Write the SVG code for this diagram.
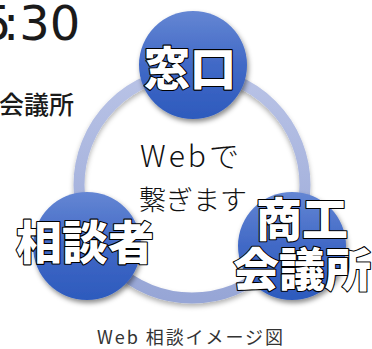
<svg xmlns="http://www.w3.org/2000/svg" width="372" height="349" viewBox="0 0 372 349">
  <defs>
    <linearGradient id="ballGrad" x1="0" y1="0" x2="0" y2="1">
      <stop offset="0" stop-color="#6486d3"/>
      <stop offset="0.5" stop-color="#4169c6"/>
      <stop offset="1" stop-color="#2d5abd"/>
    </linearGradient>
    <linearGradient id="ringGrad" x1="0" y1="0" x2="0" y2="1">
      <stop offset="0" stop-color="#b9c3e6"/>
      <stop offset="1" stop-color="#97a6d6"/>
    </linearGradient>
    <filter id="shadow" x="-30%" y="-30%" width="160%" height="160%">
      <feDropShadow dx="1.5" dy="3" stdDeviation="2.5" flood-color="#000" flood-opacity="0.45"/>
    </filter>
    <filter id="ringShadow" x="-20%" y="-20%" width="140%" height="140%">
      <feDropShadow dx="0" dy="3" stdDeviation="2.5" flood-color="#000" flood-opacity="0.3"/>
    </filter>
    <style>
      .ball { fill: url(#ballGrad); filter: url(#shadow); }
      .label { font-family: "Noto Sans CJK JP", "Noto Sans", sans-serif; font-weight: 900; font-size: 46px; fill: #ffffff; stroke: #000000; stroke-width: 2.2px; stroke-linejoin: round; paint-order: stroke fill; text-anchor: middle; }
      .center { font-family: "Noto Sans CJK JP", "Noto Sans", sans-serif; font-weight: 300; fill: #111111; text-anchor: middle; }
      .time { font-family: "DejaVu Sans", sans-serif; font-size: 48px; fill: #1a1a1a; }
      .side { font-family: "Noto Sans CJK JP", sans-serif; font-size: 25px; font-weight: 500; fill: #1a1a1a; text-anchor: end; }
      .caption { font-family: "Noto Sans CJK JP", "Noto Sans", sans-serif; font-size: 18px; fill: #333333; text-anchor: middle; }
    </style>
  </defs>

  <rect width="372" height="349" fill="#ffffff"/>

  <!-- background fragments -->
  <text class="time" y="40"><tspan x="-19">5</tspan><tspan x="3">:30</tspan></text>
  <text class="side" x="74" y="114">会議所</text>

  <!-- connectors -->
  <g id="connectors">
    <circle cx="192" cy="185" r="113" fill="none" stroke="url(#ringGrad)" stroke-width="11" filter="url(#ringShadow)"/>
  </g>

  <!-- center caption -->
  <g id="center-text">
    <text class="center" x="191" y="167" font-size="30" letter-spacing="3">Webで</text>
    <text class="center" x="193" y="210" font-size="27">繋ぎます</text>
  </g>

  <g id="node-madoguchi">
    <circle class="ball" cx="193" cy="65" r="54"/>
    <text class="label" x="190" y="85">窓口</text>
  </g>

  <g id="node-soudansha">
    <circle class="ball" cx="87" cy="246" r="54"/>
    <text class="label" x="85" y="259">相談者</text>
  </g>

  <g id="node-shoukou">
    <circle class="ball" cx="292" cy="246" r="54"/>
    <text class="label" x="302" y="236">商工</text>
    <text class="label" x="302" y="286">会議所</text>
  </g>

  <text class="caption" x="190" y="344" textLength="186" lengthAdjust="spacing">Web 相談イメージ図</text>
</svg>
